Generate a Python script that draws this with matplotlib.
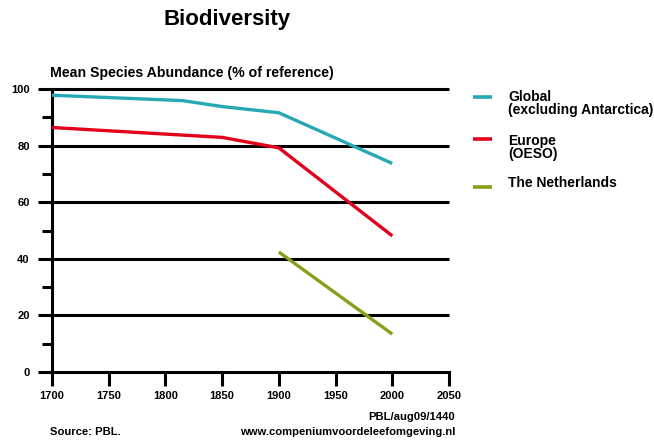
import matplotlib.pyplot as plt
from matplotlib.lines import Line2D

plt.rcParams['font.family'] = ['Liberation Sans', 'DejaVu Sans']
plt.rcParams['font.weight'] = 'bold'

# data
global_years = [1700, 1815, 1850, 1900, 2000]
global_msa = [97.8, 95.9, 93.8, 91.6, 73.7]
europe_years = [1700, 1850, 1900, 2000]
europe_msa = [86.4, 82.9, 79.2, 48.1]
nl_years = [1900, 2000]
nl_msa = [42.4, 13.4]

labels = ['Global\n(excluding Antarctica)', 'Europe\n(OESO)', 'The Netherlands']
colors = ['#26a9b4', '#e2001a', '#8c9d1c']

x_ticks = [1700, 1750, 1800, 1850, 1900, 1950, 2000, 2050]
y_major = [0, 20, 40, 60, 80, 100]
y_minor = [10, 30, 50, 70, 90]

W, H = 654, 441
fig = plt.figure(figsize=(W / 100, H / 100), dpi=100)
ax = fig.add_axes([52 / W, 1 - 372 / H, (449 - 52) / W, (372 - 89) / H])

lw_axis = 2.2
for v in y_major[1:]:
    ax.hlines(v, 1700, 2050, color='black', lw=lw_axis, clip_on=False, zorder=1)

series = [(global_years, global_msa), (europe_years, europe_msa), (nl_years, nl_msa)]
for (xs, ys), c in zip(series, colors):
    ax.plot(xs, ys, color=c, lw=2.4, solid_capstyle='butt', clip_on=False, zorder=3)

ax.set_xlim(1700, 2050)
ax.set_ylim(0, 100)
for s in ['top', 'right']:
    ax.spines[s].set_visible(False)
for s in ['left', 'bottom']:
    ax.spines[s].set_linewidth(lw_axis)
    ax.spines[s].set_capstyle('projecting')

ax.set_xticks(x_ticks)
ax.set_xticklabels([str(t) for t in x_ticks])
ax.set_yticks(y_major)
ax.set_yticks(y_minor, minor=True)
ax.tick_params(axis='x', direction='out', length=10, width=lw_axis, pad=4, labelsize=8)
ax.tick_params(axis='y', which='major', direction='out', length=10, width=lw_axis, pad=6, labelsize=8)
ax.tick_params(axis='y', which='minor', direction='out', length=7, width=lw_axis)
for lab in ax.get_xticklabels() + ax.get_yticklabels():
    lab.set_fontweight('bold')

# titles
fig.text(227 / W, 1 - 20 / H, 'Biodiversity', ha='center', va='center',
         fontsize=16, fontweight='bold')
fig.text(50 / W, 1 - 73 / H, 'Mean Species Abundance (% of reference)', ha='left',
         va='center', fontsize=10.2, fontweight='bold')

# legend
handle_y = [97, 139, 187]
text_y = [97, 141, 183]
for hy, ty, lab, c in zip(handle_y, text_y, labels, colors):
    fig.add_artist(Line2D([473 / W, 492 / W], [1 - hy / H, 1 - hy / H],
                          color=c, lw=2.6, solid_capstyle='butt'))
    fig.text(508 / W, 1 - (ty - 7) / H, lab, ha='left', va='top',
             fontsize=10, fontweight='bold', linespacing=0.9)

# footer
fig.text(455 / W, 1 - 417 / H, 'PBL/aug09/1440', ha='right', va='center',
         fontsize=8.1, fontweight='bold')
fig.text(455 / W, 1 - 432 / H, 'www.compeniumvoordeleefomgeving.nl', ha='right',
         va='center', fontsize=8.1, fontweight='bold')
fig.text(50 / W, 1 - 432 / H, 'Source: PBL.', ha='left', va='center',
         fontsize=8.1, fontweight='bold')

fig.savefig('out.png', dpi=100)
